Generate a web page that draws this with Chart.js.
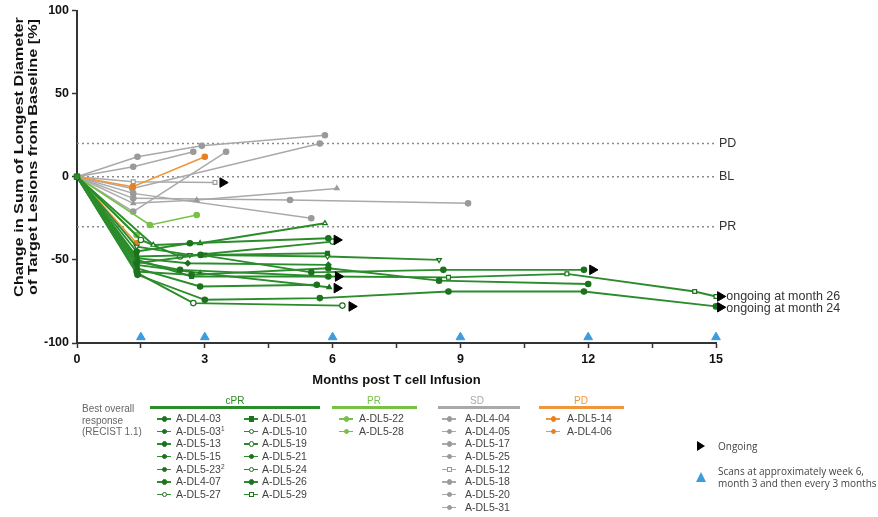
<!DOCTYPE html>
<html><head><meta charset="utf-8">
<script src="https://cdn.jsdelivr.net/npm/chart.js@4/dist/chart.umd.min.js"></script>
<style>
body{margin:0;background:#fff;width:878px;height:517px;overflow:hidden;position:relative;font-family:Arial,'Liberation Sans',sans-serif;}
#c{position:absolute;left:0;top:0;}
.t{position:absolute;font-size:10.5px;color:#555;white-space:nowrap;line-height:12px;}
.hd{position:absolute;font-size:10px;text-align:center;}
.hl{position:absolute;height:2.5px;}
.mk{position:absolute;width:14px;height:1.5px;}
.mk i{position:absolute;left:4.5px;top:-2px;width:3.5px;height:3.5px;border-radius:50%;}
.sp{position:relative;top:-4px;font-size:6.5px;line-height:0;}
</style></head><body>
<canvas id="c" width="878" height="517"></canvas>
<div id="legend"></div>
<script>
// ---------- data: [month, % change] ----------
const xTicks = [0, 1.5, 3, 4.5, 6, 7.5, 9, 10.5, 12, 13.5, 15];
const yTicks = [-100, -50, 0, 50, 100];
const refLines = [["PD", 20], ["BL", 0], ["PR", -30]];
const scanMonths = [1.5, 3, 6, 9, 12, 15];
const ongoingPts = [[3.42,-3.5],[6.1,-38],[6.13,-60],[6.1,-67],[6.45,-78],[12.1,-56],[15.1,-72],[15.1,-78.5]];

// cPR
const A_DL4_03 = [[0,0],[1.4,-45],[2.65,-40],[5.9,-37]];
const A_DL5_03 = [[0,0],[1.4,-52],[2.9,-47],[5.5,-57.5],[8.6,-56],[11.9,-56]];
const A_DL5_13 = [[0,0],[1.4,-57],[2.69,-59],[5.9,-55],[8.5,-62.5],[12.0,-64.5]];
const A_DL5_15 = [[0,0],[1.4,-51],[2.42,-56],[5.9,-60]];
const A_DL5_23 = [[0,0],[1.42,-59],[3.0,-74],[5.7,-73],[8.72,-69],[11.9,-69],[15.0,-78]];
const A_DL4_07 = [[0,0],[1.4,-55],[2.89,-66],[5.63,-65]];
const A_DL5_27 = [[0,0],[1.42,-58],[2.73,-76],[6.23,-77.5]];
const A_DL5_01 = [[0,0],[1.4,-48],[3.0,-47],[5.88,-46]];
const A_DL5_10 = [[0,0],[1.79,-41],[2.89,-40],[5.82,-28]];
const A_DL5_19 = [[0,0],[1.4,-42],[2.65,-47],[5.88,-48],[8.5,-50]];
const A_DL5_21 = [[0,0],[1.4,-49],[2.6,-52],[5.9,-53]];
const A_DL5_24 = [[0,0],[1.5,-38],[2.42,-48],[6.0,-39]];
const A_DL5_26 = [[0,0],[1.4,-53],[2.89,-58],[5.92,-66.5]];
const A_DL5_29 = [[0,0],[1.42,-50],[2.69,-60],[5.9,-60],[8.72,-60.5],[11.5,-58.4],[14.5,-69],[15.0,-72]];
// PR
const A_DL5_22 = [[0,0],[1.71,-29],[2.81,-23]];
const A_DL5_28 = [[0,0],[1.4,-35]];
// SD
const A_DL4_04 = [[0,0],[1.42,12],[2.93,18.6],[5.82,25]];
const A_DL4_05 = [[0,0],[1.32,6],[2.73,15]];
const A_DL5_17 = [[0,0],[1.3,-7],[5.7,20]];
const A_DL5_25 = [[0,0],[1.32,-21],[3.5,15]];
const A_DL5_12 = [[0,0],[1.32,-3],[3.24,-3.4]];
const A_DL5_18 = [[0,0],[1.32,-16],[2.81,-14],[6.1,-7]];
const A_DL5_20 = [[0,0],[1.32,-13],[5.0,-14],[9.18,-16]];
const A_DL5_31 = [[0,0],[1.32,-10],[5.5,-25]];
// PD
const A_DL5_14 = [[0,0],[1.31,-6],[3.0,12]];
const A_DL4_06 = [[0,0],[1.4,-40]];

// ---------- styles ----------
const C_CPR = '#2b8c2b', C_CPR_PT = '#1d731d', C_PR = '#76c146', C_SD = '#a9a9a9', C_PD = '#f0963a', C_SCAN = '#3d9be0';

const groups = [
  {name:'cPR', color:C_CPR, pt:C_CPR_PT, width:1.9, order:2, series:[
    ['A-DL4-03',A_DL4_03,'circle',false],['A-DL5-03',A_DL5_03,'circle',false],['A-DL5-13',A_DL5_13,'circle',false],
    ['A-DL5-15',A_DL5_15,'circle',false],['A-DL5-23',A_DL5_23,'circle',false],['A-DL4-07',A_DL4_07,'circle',false],
    ['A-DL5-27',A_DL5_27,'circle',true],['A-DL5-01',A_DL5_01,'rect',false],['A-DL5-10',A_DL5_10,'triangle',true],
    ['A-DL5-19',A_DL5_19,'invtri',true],['A-DL5-21',A_DL5_21,'rectRot',false],['A-DL5-24',A_DL5_24,'circle',true],
    ['A-DL5-26',A_DL5_26,'triangle',false],['A-DL5-29',A_DL5_29,'rect',true]]},
  {name:'PR', color:C_PR, pt:C_PR, width:1.6, order:3, series:[['A-DL5-22',A_DL5_22,'circle',false],['A-DL5-28',A_DL5_28,'circle',false]]},
  {name:'SD', color:C_SD, pt:'#9a9a9a', width:1.5, order:4, series:[
    ['A-DL4-04',A_DL4_04,'circle',false],['A-DL4-05',A_DL4_05,'circle',false],['A-DL5-17',A_DL5_17,'circle',false],
    ['A-DL5-25',A_DL5_25,'circle',false],['A-DL5-12',A_DL5_12,'rect',true],['A-DL5-18',A_DL5_18,'triangle',false],
    ['A-DL5-20',A_DL5_20,'circle',false],['A-DL5-31',A_DL5_31,'circle',false]]},
  {name:'PD', color:C_PD, pt:'#e8801f', width:1.6, order:3, series:[['A-DL5-14',A_DL5_14,'circle',false],['A-DL4-06',A_DL4_06,'circle',false]]}
];

const toXY = arr => arr.map(p => ({x:p[0], y:p[1]}));
const datasets = [];
groups.forEach(g => g.series.forEach(s => {
  const inv = s[2] === 'invtri';
  datasets.push({
    label: s[0], data: toXY(s[1]), showLine: true,
    borderColor: g.color, borderWidth: g.width,
    pointStyle: inv ? 'triangle' : s[2], rotation: inv ? 180 : 0,
    pointRadius: ctx => ctx.dataIndex === 0 ? 0 : 2.7,
    pointBackgroundColor: s[3] ? '#fff' : g.pt, pointBorderColor: g.pt, pointBorderWidth: 1.2,
    order: g.order, clip: false
  });
}));
refLines.forEach(r => datasets.push({
  label: r[0], data: [{x:0,y:r[1]},{x:15,y:r[1]}], showLine:true,
  borderColor:'#8a8a8a', borderWidth:1.5, borderDash:[2,3], pointRadius:0, order:6
}));
datasets.push({label:'start', data:[{x:0,y:0}], pointStyle:'rect', pointRadius:4, pointBackgroundColor:C_CPR, pointBorderColor:C_CPR_PT, order:1, clip:false});
datasets.push({label:'Ongoing', data: toXY(ongoingPts), pointStyle:'triangle', rotation:90, pointRadius:5.5,
  pointBackgroundColor:'#000', pointBorderColor:'#000', order:0, clip:false});
datasets.push({label:'Scans', data: scanMonths.map(m => ({x:m, y:-96.5})), pointStyle:'triangle', pointRadius:5,
  pointBackgroundColor:C_SCAN, pointBorderColor:C_SCAN, order:0, clip:false});

const textPlugin = {
  id:'texts',
  afterDraw(chart){
    const {ctx, scales:{x, y}} = chart;
    ctx.save();
    ctx.fillStyle = '#333';
    ctx.font = '12.5px Arial, "Liberation Sans", sans-serif';
    ctx.textBaseline = 'middle'; ctx.textAlign = 'left';
    refLines.forEach(r => ctx.fillText(r[0], x.getPixelForValue(15) + 3, y.getPixelForValue(r[1])));
    ctx.fillText('ongoing at month 26', x.getPixelForValue(15.1) + 6, y.getPixelForValue(-72));
    ctx.fillText('ongoing at month 24', x.getPixelForValue(15.1) + 6, y.getPixelForValue(-79));
    ctx.fillStyle = '#111';
    ctx.font = 'bold 13px Arial, "Liberation Sans", sans-serif';
    ctx.textAlign = 'center';
    ctx.fillText('Months post T cell Infusion', (x.left + x.right)/2, 380);
    ctx.translate(26, 157); ctx.rotate(-Math.PI/2); ctx.scale(1.25, 1);
    ctx.fillText('Change in Sum of Longest Diameter', 0, -7);
    ctx.fillText('of Target Lesions from Baseline [%]', 0, 7);
    ctx.restore();
  }
};

new Chart(document.getElementById('c'), {
  type:'scatter',
  data:{datasets},
  options:{
    responsive:false, animation:false, devicePixelRatio:1,
    layout:{padding:{left:0, top:10, right:162, bottom:134}},
    plugins:{legend:{display:false}, tooltip:{enabled:false}},
    scales:{
      x:{type:'linear', min:0, max:15,
        afterBuildTicks: s => { s.ticks = xTicks.map(v => ({value:v})); },
        afterFit: s => { s.height = 40; },
        ticks:{callback: v => (v % 3 === 0 ? String(v) : ''), font:{family:'Arial, "Liberation Sans"', size:12.5, weight:'bold'}, color:'#111', padding:4, maxRotation:0, autoSkip:false},
        grid:{drawOnChartArea:false, drawTicks:true, tickLength:5, color:'#333', tickWidth:1.5},
        border:{display:true, color:'#333', width:2}},
      y:{type:'linear', min:-100, max:100,
        afterBuildTicks: s => { s.ticks = yTicks.map(v => ({value:v})); },
        afterFit: s => { s.width = 77; },
        ticks:{font:{family:'Arial, "Liberation Sans"', size:12.5, weight:'bold'}, color:'#111', padding:3},
        grid:{drawOnChartArea:false, drawTicks:true, tickLength:5, color:'#333', tickWidth:1.5},
        border:{display:true, color:'#333', width:2}}
    }
  },
  plugins:[textPlugin]
});

// ---------- legend (HTML) ----------
const L = document.getElementById('legend');
function add(html){ L.insertAdjacentHTML('beforeend', html); }
add('<div class="t" style="left:82px;top:403px;color:#666;font-size:10px;line-height:11.5px">Best overall<br>response<br>(RECIST 1.1)</div>');
const rowTop = 418, rowH = 12.65;
const cols = [
  {g:groups[0], hx:235, l1:150, l2:320, cols:[[157,176],[244,262]], per:7},
  {g:groups[1], hx:374, l1:332, l2:417, cols:[[339,359]], per:8},
  {g:groups[2], hx:477, l1:438, l2:520, cols:[[442,465]], per:8},
  {g:groups[3], hx:581, l1:539, l2:624, cols:[[546,567]], per:8}
];
cols.forEach(c => {
  add(`<div class="hd" style="left:${c.hx-30}px;width:60px;top:395px;color:${c.g.color}">${c.g.name}</div>`);
  add(`<div class="hl" style="left:${c.l1}px;width:${c.l2-c.l1}px;top:406px;background:${c.g.color}"></div>`);
  c.g.series.forEach((s, i) => {
    const col = c.cols[Math.floor(i / c.per)], r = i % c.per;
    const cy = rowTop + r * rowH;
    const fill = s[3] ? '#fff' : c.g.pt;
    const shape = s[2] === 'rect' ? 'border-radius:0' : '';
    add(`<div class="mk" style="left:${col[0]}px;top:${cy}px;background:${c.g.color}"><i style="background:${fill};border:1px solid ${c.g.pt};${shape}"></i></div>`);
    let name = s[0];
    if (name === 'A-DL5-03') name += '<span class="sp">1</span>';
    if (name === 'A-DL5-23') name += '<span class="sp">2</span>';
    add(`<div class="t" style="left:${col[1]}px;top:${cy-6}px;color:#444">${name}</div>`);
  });
});
add('<div style="position:absolute;left:697px;top:441px;width:0;height:0;border-top:5px solid transparent;border-bottom:5px solid transparent;border-left:8px solid #000"></div>');
add('<div class="t" style="left:718px;top:440px;font-family:\'Open Sans\',sans-serif;font-size:10px;color:#444">Ongoing</div>');
add('<div style="position:absolute;left:696px;top:472px;width:0;height:0;border-left:5px solid transparent;border-right:5px solid transparent;border-bottom:10px solid '+C_SCAN+'"></div>');
add('<div class="t" style="left:718px;top:465px;font-family:\'Open Sans\',sans-serif;font-size:10px;color:#444;line-height:12px">Scans at approximately week 6,<br>month 3 and then every 3 months</div>');
</script>
</body></html>
